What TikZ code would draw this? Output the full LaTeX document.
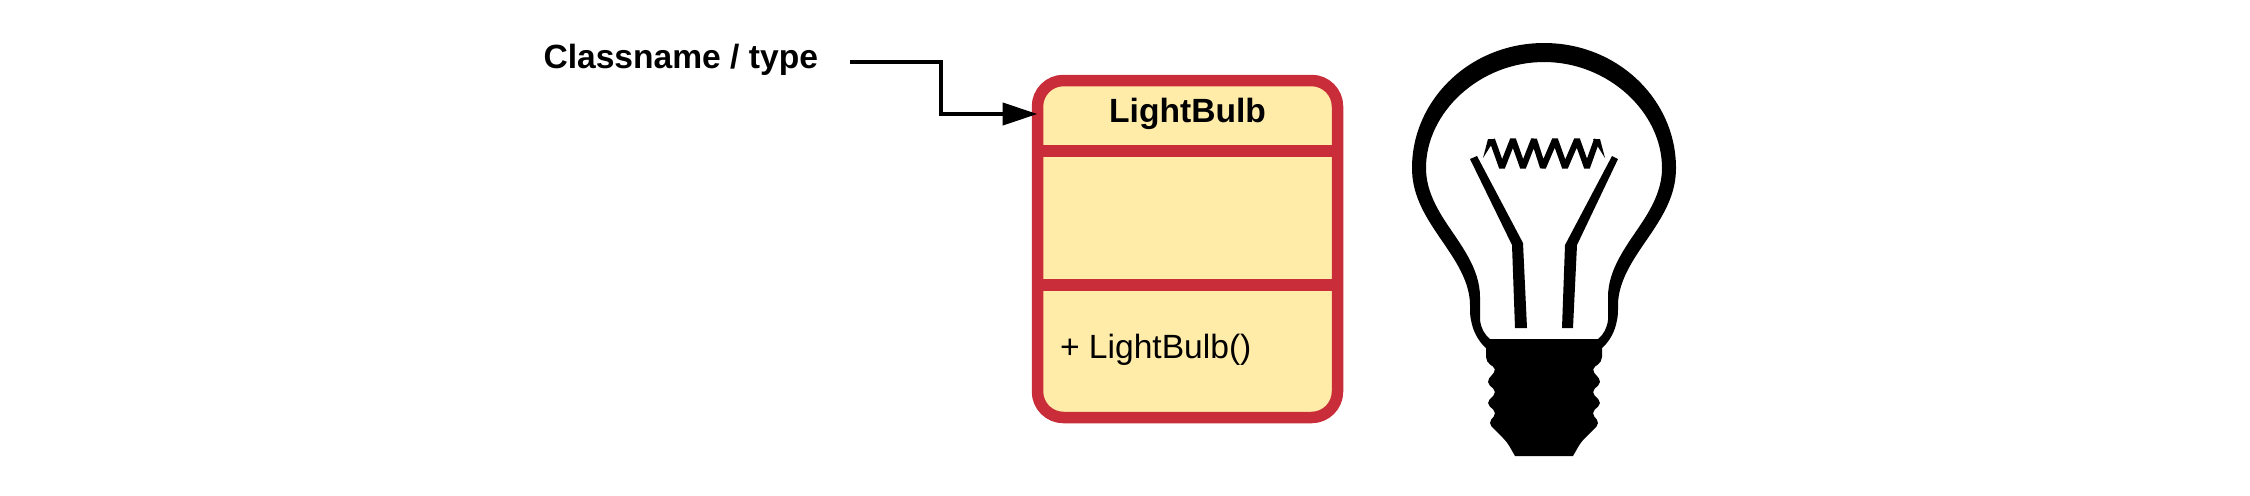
\documentclass[tikz,border=0pt]{standalone}
\usepackage{fontspec}
\setmainfont{Liberation Sans}
\usetikzlibrary{arrows.meta}
\definecolor{classred}{HTML}{C92D39}
\definecolor{classfill}{HTML}{FFECA9}
\tikzset{
  classbox/.style={draw=classred,fill=classfill,line width=5.75pt,rounded corners=13pt,minimum width=150pt,minimum height=168.5pt,inner sep=0pt,outer sep=0pt},
  divider/.style={draw=classred,line width=5.75pt},
  labeltext/.style={font=\fontsize{16.8pt}{20pt}\selectfont,text=black,inner sep=0pt,outer sep=0pt},
  boldtext/.style={labeltext,font=\fontsize{16.8pt}{20pt}\selectfont\bfseries},
  pointer/.style={draw=black,line width=2.2pt,-{Triangle[length=17.5pt,width=11pt]}},
  bulbink/.style={fill=black,draw=none}
}
\begin{document}
\begin{tikzpicture}[x=0.5pt,y=-0.5pt]
\useasboundingbox (0,0) rectangle (2250,495);
% class box
\node[classbox] (box) at (1187.5,249) {};
\draw[divider] (box.west |- 0,151) -- (box.east |- 0,151);
\draw[divider] (box.west |- 0,285) -- (box.east |- 0,285);
\node[boldtext,anchor=base] (title) at (1187.5,122) {LightBulb};
\node[labeltext,anchor=base west] (method) at (1060,358) {+ LightBulb()};
\node[boldtext,anchor=base west] (caption) at (543.5,68) {Classname / type};
% connector
\coordinate (from) at (850,62);
\coordinate (entry) at (box.west |- 0,114);
\coordinate (knee) at (941,88);
\draw[pointer] (from) -| (knee) |- (entry);
% bulb
\path[bulbink,even odd rule]
  (1544,43) .. controls (1470,43) and (1412,100) .. (1412,168)
  .. controls (1412,192) and (1422,211) .. (1436,232)
  .. controls (1450,253) and (1470,278) .. (1470,305)
  .. controls (1470,312) and (1470,316) .. (1471,320)
  .. controls (1473,332) and (1479,342) .. (1486,348)
  [rounded corners=2.5pt] -- (1486,362) -- (1497,369) -- (1486,382) -- (1497,392) -- (1486,403) -- (1497,413) -- (1488,423) -- (1507,442)
  [sharp corners] -- (1515,456) -- (1573,456)
  [rounded corners=2.5pt] -- (1581,442) -- (1600,423) -- (1591,413) -- (1602,403) -- (1591,392) -- (1602,382) -- (1591,369) -- (1602,362)
  [sharp corners] -- (1602,348)
  .. controls (1609,342) and (1615,332) .. (1617,320)
  .. controls (1618,316) and (1618,312) .. (1618,305)
  .. controls (1618,278) and (1638,253) .. (1652,232)
  .. controls (1666,211) and (1676,192) .. (1676,168)
  .. controls (1676,100) and (1618,43) .. (1544,43) -- cycle
  (1544,62) .. controls (1480,62) and (1426,112) .. (1426,168)
  .. controls (1426,187) and (1434,204) .. (1445,221)
  .. controls (1460,244) and (1480,268) .. (1480,297) -- (1480,320)
  .. controls (1481,328) and (1484,334) .. (1490,339) -- (1598,339)
  .. controls (1604,334) and (1607,328) .. (1608,320) -- (1608,297)
  .. controls (1608,268) and (1628,244) .. (1643,221)
  .. controls (1654,204) and (1662,187) .. (1662,168)
  .. controls (1662,112) and (1608,62) .. (1544,62) -- cycle;
% leads
\path[bulbink] (1470,159) -- (1477,156) -- (1523,243) -- (1527,328) -- (1515,328) -- (1512,245) -- cycle;
\path[bulbink] (1612,156) -- (1618,159) -- (1577,245) -- (1573,328) -- (1562,328) -- (1565,245) -- cycle;
% filament
\path[bulbink] (1483,158) -- (1488,139) -- (1495,139) -- cycle;
\path[bulbink] (1605,158) -- (1600,139) -- (1593,139) -- cycle;
\draw[black,line width=3pt,line join=bevel]
  (1492,139.5) -- (1502,167.5) -- (1513,139.5) -- (1523,167.5) -- (1534,139.5) -- (1543,167.5) -- (1555,139.5) -- (1565,167.5) -- (1577,139.5) -- (1587,167.5) -- (1597,139.5);
\end{tikzpicture}
\end{document}
